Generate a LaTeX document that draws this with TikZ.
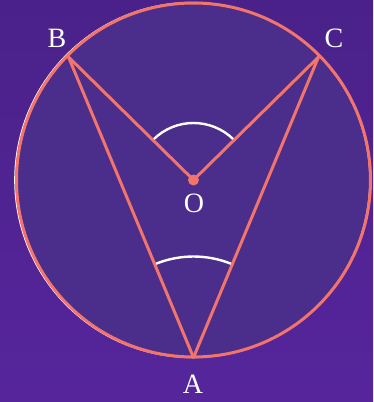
\documentclass[tikz,border=0pt]{standalone}
\usepackage{fontspec}
\setmainfont{Liberation Serif}
\usetikzlibrary{calc}
\definecolor{BgTop}{HTML}{4A2189}
\definecolor{BgBot}{HTML}{56259C}
\definecolor{DiskFill}{HTML}{4B2D8B}
\definecolor{Coral}{HTML}{F2746A}
\tikzset{chord/.style={draw=Coral,line width=3pt,line cap=round,line join=round}, angarc/.style={draw=white,line width=2.4pt}, ptlabel/.style={text=white,font=\fontsize{28}{32}\selectfont,inner sep=0pt}}
\begin{document}
\begin{tikzpicture}[x=1pt,y=-1pt]
\useasboundingbox (0,0) rectangle (373,402);
\shade[top color=BgTop,bottom color=BgBot] (0,0) rectangle (373,402);
\coordinate (O) at (193.5,180);
\coordinate (B) at ($(O)+(-125,-123)$);
\coordinate (C) at ($(O)+(125,-123)$);
\coordinate (A) at ($(O)+(0,177.5)$);
% disk and rim
\fill[DiskFill] (O) circle[radius=177];
\draw[white,line width=1.2pt] ($(O)+(-1.2,0)$) circle[radius=177.5];
\draw[Coral,line width=3pt] (O) circle[radius=177];
% angle marks (y axis points down, so angles are negative)
\draw[angarc] ($(O)+(-45:57)$) arc[start angle=-45,end angle=-135,radius=57];
\draw[angarc] ($(A)+(-67.4:101)$) arc[start angle=-67.4,end angle=-112.6,radius=101];
% chords and radii
\foreach \src/\dst in {B/A,A/C,B/O,O/C}{\draw[chord] (\src)--(\dst);}
\fill[Coral] (O) circle[radius=5.5];
\node[ptlabel] (labB) at (57,38) {B};
\node[ptlabel] (labC) at (334,38) {C};
\node[ptlabel] (labO) at (194,203) {O};
\node[ptlabel] (labA) at (193,384) {A};
\end{tikzpicture}
\end{document}
